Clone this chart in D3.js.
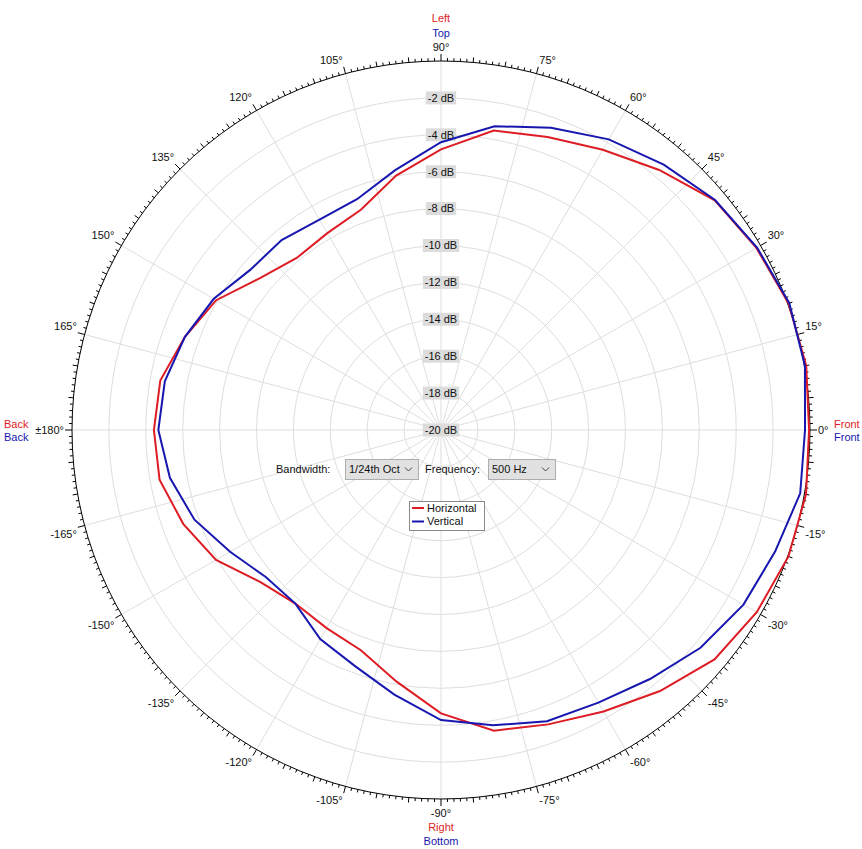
<!DOCTYPE html>
<html>
<head>
<meta charset="utf-8">
<script src="https://cdn.jsdelivr.net/npm/d3@7"></script>
<style>
  html, body { margin: 0; padding: 0; background: #ffffff; }
  svg { display: block; font-family: "Liberation Sans", Arial, sans-serif; }
</style>
</head>
<body>
<svg id="chart" width="862" height="849"></svg>
<script>
// ---- data ----
const angles = [-180,-170,-160,-150,-140,-130,-120,-110,-100,-90,-80,-70,-60,-50,-40,-30,-20,-10,
                0,10,20,30,40,50,60,70,80,90,100,110,120,130,140,150,160,170];
const horizontal = [-4.44,-4.51,-5.13,-5.92,-7.2,-7.72,-7.6,-7.3,-6.15,-4.64,-3.45,-3.02,-2.38,-1.53,-0.65,-0.24,0.04,0.09,
                    -0.05,0.1,0.05,-0.26,-0.63,-1.6,-2.46,-3.1,-3.52,-4.79,-6.0,-7.3,-7.68,-7.83,-7.19,-5.93,-5.23,-4.55];
const vertical = [-4.68,-5.08,-5.78,-6.8,-7.6,-7.72,-6.91,-6.38,-5.44,-4.28,-3.75,-3.2,-2.94,-2.38,-1.64,-1.07,-0.73,-0.23,
                  -0.27,0.03,0.09,-0.22,-0.61,-1.22,-1.81,-2.57,-3.28,-4.4,-5.7,-6.69,-6.83,-6.56,-6.5,-5.78,-5.23,-4.8];
const dbTicks = [-2,-4,-6,-8,-10,-12,-14,-16,-18,-20];
const angleTicks = [-165,-150,-135,-120,-105,-90,-75,-60,-45,-30,-15,0,15,30,45,60,75,90,105,120,135,150,165,180];
const seriesNames = ["Horizontal","Vertical"];
const bandwidthLabel = "Bandwidth:";
const bandwidthValue = "1/24th Oct";
const frequencyLabel = "Frequency:";
const frequencyValue = "500 Hz";

// ---- layout ----
const RED = "#dd1c24", BLUE = "#1717b0";
const cx = 441, cy = 430, R = 369;
const svg = d3.select("#chart");
const g = svg.append("g").attr("transform", `translate(${cx},${cy})`);

const r = d3.scaleLinear().domain([-20, 0]).range([0, R]);
const toRad = d3.scaleLinear().domain([0, 360]).range([0, 2 * Math.PI]);
// math angle (ccw from right) -> point
const px = (deg, rad) => rad * Math.cos(toRad(deg));
const py = (deg, rad) => -rad * Math.sin(toRad(deg));

// rings
g.selectAll("circle.ring").data(dbTicks.filter(d => d > -20)).join("circle")
  .attr("class", "ring").attr("r", d => r(d))
  .attr("fill", "none").attr("stroke", "#dedede").attr("stroke-width", 1);

// spokes every 15 deg
const spokes = d3.range(0, 360, 15);
g.selectAll("line.spoke").data(spokes).join("line")
  .attr("x1", 0).attr("y1", 0)
  .attr("x2", d => px(d, R)).attr("y2", d => py(d, R))
  .attr("stroke", "#dedede").attr("stroke-width", 1);

// dB labels
const dbG = g.selectAll("g.db").data(dbTicks).join("g")
  .attr("transform", d => `translate(0,${-r(d)})`);
dbG.append("text")
  .attr("text-anchor", "middle").attr("dy", "0.35em")
  .attr("font-size", 11).attr("fill", "#111")
  .text(d => `${d} dB`)
  .each(function () {
    const w = this.getComputedTextLength();
    d3.select(this.parentNode).insert("rect", "text")
      .attr("x", -w / 2 - 2).attr("y", -6.5).attr("width", w + 4).attr("height", 13)
      .attr("fill", "#dcdcdc");
  });

// outer circle
g.append("circle").attr("r", R).attr("fill", "none").attr("stroke", "#000").attr("stroke-width", 1);

// ticks (outward)
const tickLen = d => (d % 15 === 0 ? 7 : d % 5 === 0 ? 5 : 3);
const tickDegs = d3.range(0, 360, 1);
g.selectAll("line.tick").data(tickDegs).join("line")
  .attr("x1", d => px(d, R)).attr("y1", d => py(d, R))
  .attr("x2", d => px(d, R + tickLen(d)))
  .attr("y2", d => py(d, R + tickLen(d)))
  .attr("stroke", "#000").attr("stroke-width", 1);

// curves
const line = d3.lineRadial()
  .angle(d => toRad(90 - d.a))
  .radius(d => r(d.v))
  .curve(d3.curveLinearClosed);
const seriesData = [
  { name: seriesNames[0], color: RED, pts: angles.map((a, i) => ({ a, v: horizontal[i] })) },
  { name: seriesNames[1], color: BLUE, pts: angles.map((a, i) => ({ a, v: vertical[i] })) }
];
g.selectAll("path.series").data(seriesData).join("path")
  .attr("d", d => line(d.pts))
  .attr("fill", "none").attr("stroke", d => d.color).attr("stroke-width", 2)
  .attr("stroke-linejoin", "miter");

// angle labels: corner of label box touches the end of the major tick
g.selectAll("text.alab").data(angleTicks).join("text")
  .attr("font-size", 11).attr("fill", "#111")
  .attr("text-anchor", "middle").attr("dy", "0.35em")
  .text(d => d === 180 ? "±180°" : `${d}°`)
  .each(function (d) {
    const w = this.getComputedTextLength(), h = 12, gap = 1;
    const c = Math.cos(toRad(d)), s = Math.sin(toRad(d));
    const ex = px(d, R + 7), ey = py(d, R + 7);
    const sx = Math.abs(c) < 1e-6 ? 0 : Math.sign(c);
    const sy = Math.abs(s) < 1e-6 ? 0 : Math.sign(s);
    d3.select(this)
      .attr("x", ex + sx * (w / 2 + gap))
      .attr("y", ey - sy * (h / 2 + gap));
  });

// side labels
const side = [
  { t: "Left", x: cx, y: 18, c: RED, a: "middle" },
  { t: "Top", x: cx, y: 33, c: BLUE, a: "middle" },
  { t: "Right", x: cx, y: 827, c: RED, a: "middle" },
  { t: "Bottom", x: cx, y: 841, c: BLUE, a: "middle" },
  { t: "Front", x: 834, y: 424, c: RED, a: "start" },
  { t: "Front", x: 834, y: 437, c: BLUE, a: "start" },
  { t: "Back", x: 4, y: 424, c: RED, a: "start" },
  { t: "Back", x: 4, y: 437, c: BLUE, a: "start" }
];
svg.selectAll("text.side").data(side).join("text")
  .attr("x", d => d.x).attr("y", d => d.y).attr("dy", "0.35em")
  .attr("text-anchor", d => d.a).attr("fill", d => d.c).attr("font-size", 11)
  .text(d => d.t);

// controls
const ctl = svg.append("g");
ctl.append("text").attr("x", 276).attr("y", 469).attr("dy", "0.35em").attr("font-size", 11).attr("fill", "#111").text(bandwidthLabel);
function dropdown(x, w, label) {
  ctl.append("rect").attr("x", x + 0.5).attr("y", 459.5).attr("width", w).attr("height", 20)
    .attr("fill", "#e1e1e1").attr("stroke", "#adadad");
  ctl.append("text").attr("x", x + 4).attr("y", 469.5).attr("dy", "0.35em").attr("font-size", 11).attr("fill", "#111").text(label);
  ctl.append("path").attr("d", `M${x + w - 13},467.5 L${x + w - 9.5},471 L${x + w - 6},467.5`)
    .attr("fill", "none").attr("stroke", "#444").attr("stroke-width", 1);
}
dropdown(345, 73, bandwidthValue);
ctl.append("text").attr("x", 425).attr("y", 469).attr("dy", "0.35em").attr("font-size", 11).attr("fill", "#111").text(frequencyLabel);
dropdown(488, 67, frequencyValue);

// legend
const lg = svg.append("g").attr("transform", "translate(409,501)");
lg.append("rect").attr("x", 0.5).attr("y", 0.5).attr("width", 75).attr("height", 29)
  .attr("fill", "#fff").attr("stroke", "#8a8a8a");
const li = lg.selectAll("g.li").data(seriesData).join("g")
  .attr("transform", (d, i) => `translate(0,${7 + i * 13.5})`);
li.append("line").attr("x1", 3).attr("x2", 15).attr("y1", 0).attr("y2", 0)
  .attr("stroke", d => d.color).attr("stroke-width", 2);
li.append("text").attr("x", 18).attr("y", 0).attr("dy", "0.35em").attr("font-size", 11).attr("fill", "#111").text(d => d.name);
</script>
</body>
</html>
